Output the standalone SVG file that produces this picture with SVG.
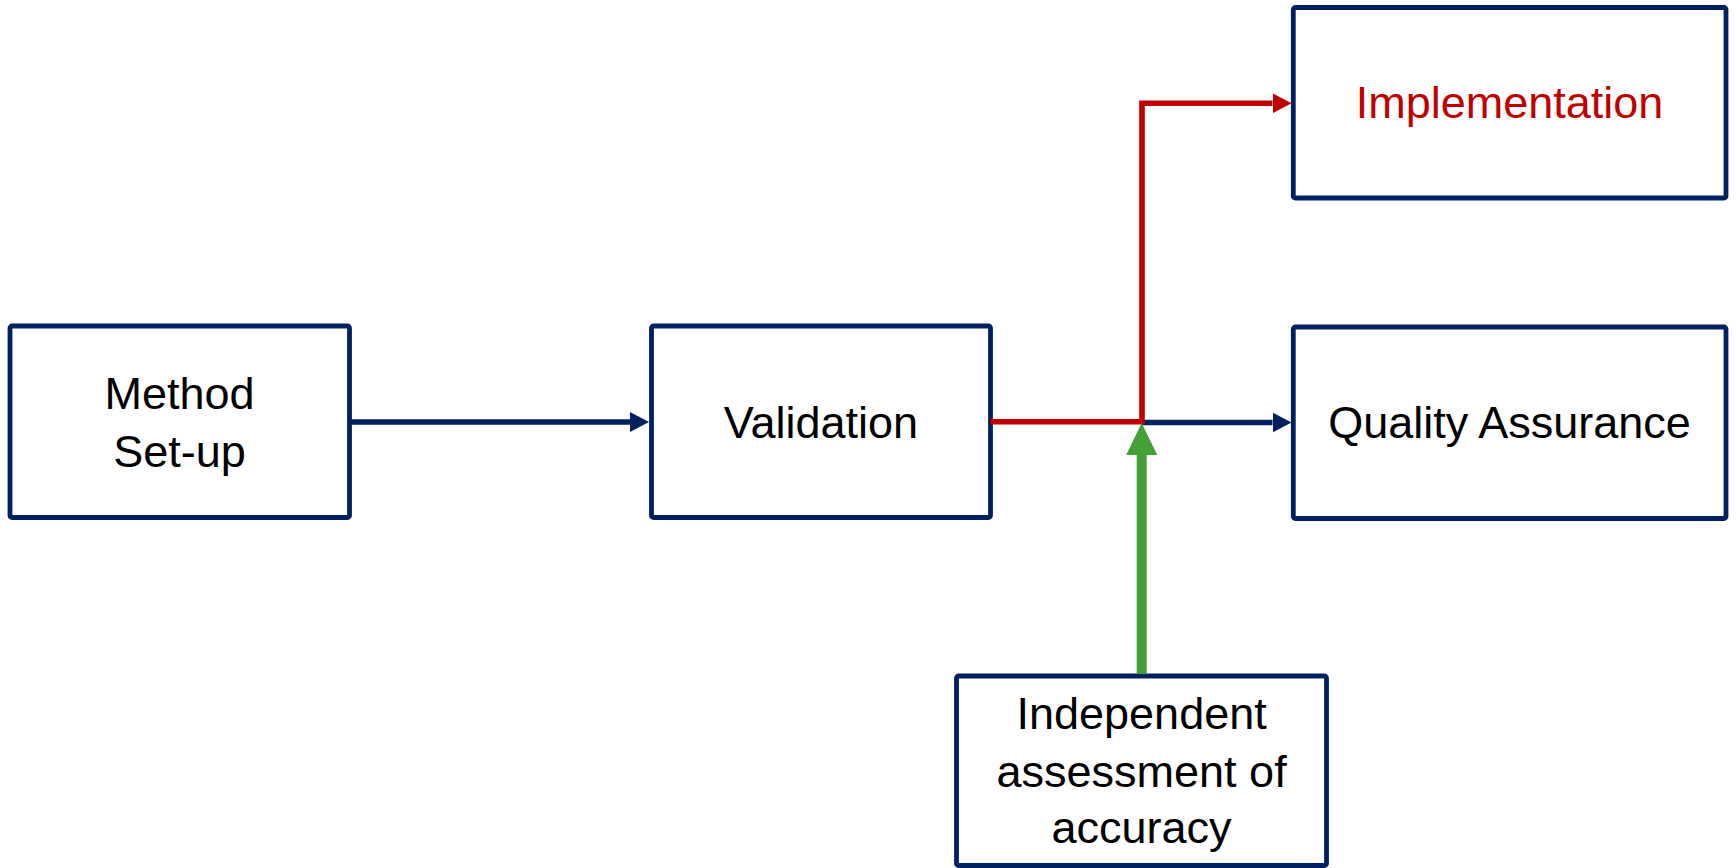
<svg xmlns="http://www.w3.org/2000/svg" width="1736" height="868" viewBox="0 0 1736 868">
<style>
.box{fill:#ffffff;stroke:#002060;stroke-width:4.8;stroke-linejoin:round}
.t{font-family:"Liberation Sans",Arial,sans-serif;font-size:45px;fill:#000000;text-anchor:middle}
.red{fill:#c00000}
.c{fill:none;stroke-width:5.6;stroke-linejoin:miter}
</style>
<defs>
<marker id="ab" markerUnits="userSpaceOnUse" markerWidth="20" markerHeight="20" viewBox="0 0 20 20" refX="0" refY="10" orient="auto"><path d="M0,0 L19,10 L0,20 z" fill="#002060"/></marker>
<marker id="ar" markerUnits="userSpaceOnUse" markerWidth="20" markerHeight="20" viewBox="0 0 20 20" refX="0" refY="10" orient="auto"><path d="M0,0 L19,10 L0,20 z" fill="#c00000"/></marker>
<marker id="ag" markerUnits="userSpaceOnUse" markerWidth="32" markerHeight="31" viewBox="0 0 32 31" refX="0" refY="15.5" orient="auto"><path d="M0,0 L32,15.5 L0,31 z" fill="#43a036"/></marker>
</defs>
<g id="method"><rect class="box" x="10" y="326" width="339.5" height="191.5" rx="2"/><text class="t" x="179.5" y="409">Method</text><text class="t" x="179.5" y="466.5">Set-up</text></g>
<g id="validation"><rect class="box" x="651.5" y="326" width="339" height="191.5" rx="2"/><text class="t" x="821" y="438">Validation</text></g>
<g id="implementation"><rect class="box" x="1293.3" y="7.5" width="432.7" height="190.5" rx="2"/><text class="t red" x="1509.5" y="118">Implementation</text></g>
<g id="qa"><rect class="box" x="1293.3" y="327" width="432.7" height="191.5" rx="2"/><text class="t" x="1509.5" y="438">Quality Assurance</text></g>
<g id="independent"><rect class="box" x="956.5" y="676" width="370" height="189.5" rx="2"/><text class="t" x="1141.6" y="729">Independent</text><text class="t" x="1141.6" y="786.5">assessment of</text><text class="t" x="1141.6" y="843">accuracy</text></g>
<g id="connectors">
<path class="c" stroke="#002060" d="M349.5,422 H630" marker-end="url(#ab)"/>
<path class="c" stroke="#002060" d="M1142,422.5 H1272.5" marker-end="url(#ab)"/>
<path class="c" stroke="#c00000" d="M990.5,421.7 H1142 V103.3 H1272.5" marker-end="url(#ar)"/>
<path fill="none" stroke="#43a036" stroke-width="10" d="M1141.7,674 V455" marker-end="url(#ag)"/>
</g>
</svg>
